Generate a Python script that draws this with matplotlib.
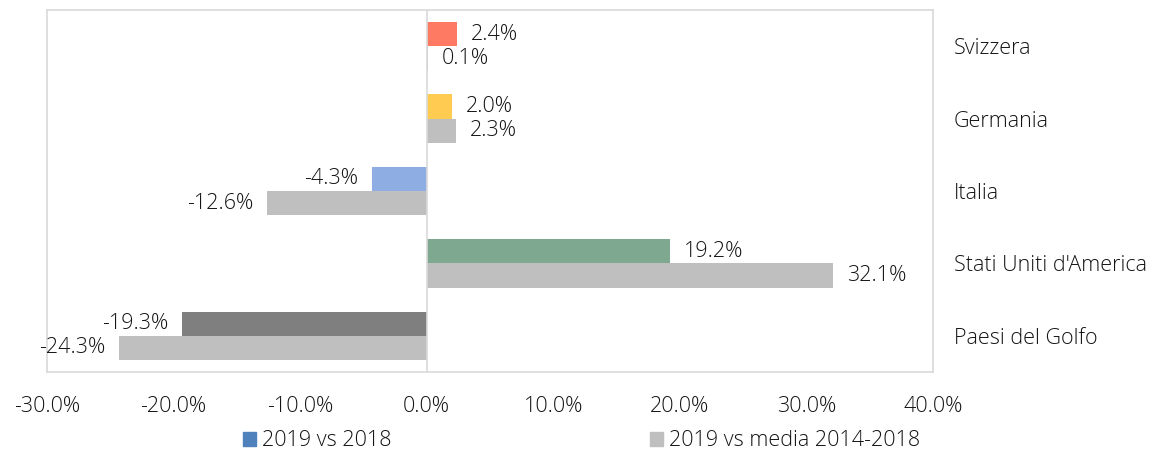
import matplotlib
matplotlib.use("Agg")
import matplotlib.pyplot as plt
from matplotlib.patches import Patch
import numpy as np

categories = ["Svizzera", "Germania", "Italia", "Stati Uniti d'America", "Paesi del Golfo"]
vs_2018 = [2.4, 2.0, -4.3, 19.2, -19.3]
vs_media = [0.1, 2.3, -12.6, 32.1, -24.3]
series_names = ["2019 vs 2018", "2019 vs media 2014-2018"]
xticks = [-30, -20, -10, 0, 10, 20, 30, 40]

bar_colors = ["#FF7A62", "#FFCB50", "#8EADE2", "#7FA890", "#7F7F7F"]
grey = "#BFBFBF"
legend_blue = "#4F81BD"
text_color = "#141414"
fs = 15.5

plt.rcParams['font.family'] = ['Open Sans', 'DejaVu Sans']

fig = plt.figure(figsize=(11.7, 4.55), dpi=100)
ax = fig.add_axes([47/1170, 1-372/455, (933-47)/1170, (372-10)/455])

n = len(categories)
y = np.arange(n)[::-1].astype(float)
h = 1/3
ax.barh(y + h/2, vs_2018, height=h, color=bar_colors, zorder=2)
ax.barh(y - h/2, vs_media, height=h, color=grey, zorder=2)

def lab(v, yy):
    off = 14 if v >= 0 else -14
    ax.annotate(f"{v:.1f}%", xy=(v, yy), xytext=(off, 0), textcoords="offset pixels",
                ha="left" if v >= 0 else "right", va="center",
                fontsize=fs, color=text_color, fontweight="light")

for v, yy in zip(vs_2018, y + h/2):
    lab(v, yy)
for v, yy in zip(vs_media, y - h/2):
    lab(v, yy)

ax.set_xlim(-30, 40)
ax.set_ylim(-0.5, n - 0.5)
ax.set_xticks(xticks)
ax.set_xticklabels([f"{t:.1f}%" for t in xticks], fontsize=fs, color=text_color, fontweight="light")
ax.tick_params(axis="x", length=0, pad=17)
ax.yaxis.tick_right()
ax.set_yticks(y)
ax.set_yticklabels(categories, fontsize=fs, color=text_color, fontweight="light")
ax.tick_params(axis="y", length=0, pad=15)
for s in ax.spines.values():
    s.set_color("#D9D9D9")
    s.set_linewidth(1.2)
ax.axvline(0, color="#D9D9D9", linewidth=1.2, zorder=3)

handles = [Patch(color=legend_blue), Patch(color=grey)]
leg = fig.legend(handles, series_names, loc="center", bbox_to_anchor=(0.497, 1-441/455), ncol=2,
                 frameon=False, fontsize=fs, handlelength=0.6, handleheight=0.6,
                 handletextpad=0.3, columnspacing=12)
for t in leg.get_texts():
    t.set_color(text_color)
    t.set_fontweight("light")

fig.savefig("out.png", dpi=100)
